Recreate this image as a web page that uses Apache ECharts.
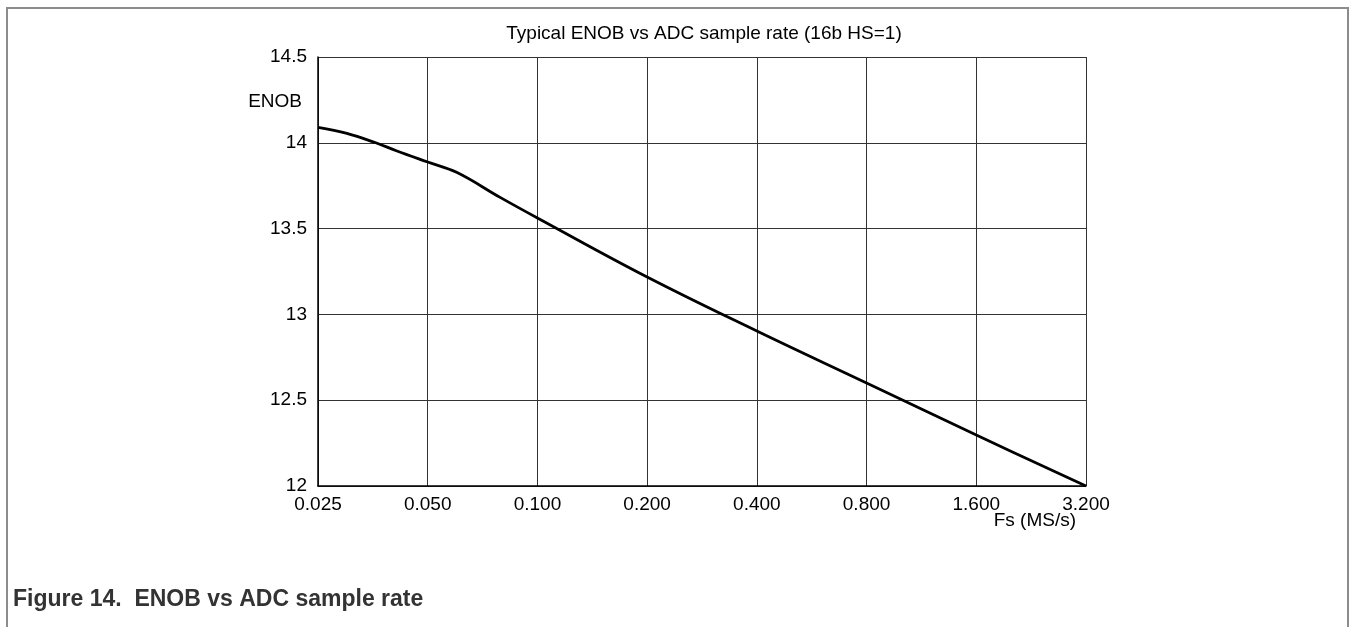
<!DOCTYPE html>
<html>
<head>
<meta charset="utf-8">
<script src="https://cdn.jsdelivr.net/npm/echarts@6/dist/echarts.min.js"></script>
<style>
html,body{margin:0;padding:0;background:#fff;}
#c{width:1353px;height:627px;}
</style>
</head>
<body>
<div id="c"></div>
<script>
// Sample rate (MS/s) and ENOB
const sampleRates = [0.025, 0.03, 0.036, 0.041, 0.05, 0.06, 0.079, 0.1, 0.2, 0.4, 0.8, 1.6, 3.2];
const enobValues  = [14.09, 14.055, 14.0, 13.954, 13.888, 13.828, 13.682, 13.562, 13.218, 12.903, 12.600, 12.297, 12.0];
const xTickLabels = ['0.025', '0.050', '0.100', '0.200', '0.400', '0.800', '1.600', '3.200'];
const baseRate = 0.025;

const FONT = 'Liberation Sans, Arial, sans-serif';
const chart = echarts.init(document.getElementById('c'), null, {renderer: 'canvas'});

const seriesData = sampleRates.map((f, i) => [Math.log2(f / baseRate), enobValues[i]]);

chart.setOption({
  animation: false,
  backgroundColor: '#ffffff',
  grid: {left: 318, right: 267, top: 57, bottom: 141, containLabel: false},
  xAxis: {
    type: 'value',
    min: 0, max: xTickLabels.length - 1, interval: 1,
    axisLine: {show: true, lineStyle: {color: '#000', width: 1.5}},
    axisTick: {show: false},
    splitLine: {show: true, lineStyle: {color: '#333', width: 1}},
    axisLabel: {
      color: '#000', fontFamily: FONT, fontSize: 19, margin: 9,
      formatter: v => xTickLabels[Math.round(v)] || ''
    }
  },
  yAxis: {
    type: 'value',
    min: 12, max: 14.5, interval: 0.5,
    axisLine: {show: true, lineStyle: {color: '#000', width: 1.5}},
    axisTick: {show: false},
    splitLine: {show: true, lineStyle: {color: '#333', width: 1}},
    axisLabel: {color: '#000', fontFamily: FONT, fontSize: 19, margin: 11}
  },
  series: [{
    type: 'line',
    data: seriesData,
    smooth: 0.4,
    symbol: 'none',
    lineStyle: {color: '#000', width: 2.8},
    z: 5
  }],
  graphic: [
    {type: 'rect', shape: {x: 7, y: 8, width: 1341, height: 700},
     style: {fill: 'none', stroke: '#8c8c8c', lineWidth: 2}, silent: true},
    {type: 'text', x: 704, y: 34,
     style: {text: 'Typical ENOB vs ADC sample rate (16b HS=1)', fill: '#000', font: '19px ' + FONT, textAlign: 'center', textVerticalAlign: 'middle'}},
    {type: 'text', x: 302, y: 102,
     style: {text: 'ENOB', fill: '#000', font: '19px ' + FONT, textAlign: 'right', textVerticalAlign: 'middle'}},
    {type: 'text', x: 1076, y: 521,
     style: {text: 'Fs (MS/s)', fill: '#000', font: '19px ' + FONT, textAlign: 'right', textVerticalAlign: 'middle'}},
    {type: 'text', x: 13, y: 600,
     style: {text: 'Figure 14.  ENOB vs ADC sample rate', fill: '#333', font: 'bold 23px ' + FONT, textAlign: 'left', textVerticalAlign: 'middle'}}
  ]
});
</script>
</body>
</html>
